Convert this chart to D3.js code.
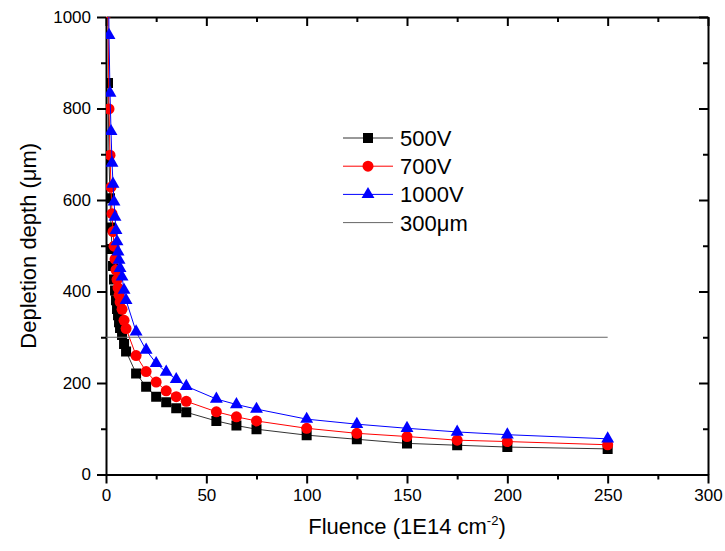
<!DOCTYPE html>
<html>
<head>
<meta charset="utf-8">
<script src="https://cdn.jsdelivr.net/npm/d3@7"></script>
<style>
  html, body { margin: 0; padding: 0; background: #fff; }
  svg { display: block; font-family: 'Liberation Sans', Arial, sans-serif; }
</style>
</head>
<body>
<svg id="chart" width="725" height="551"></svg>
<script>
// ── data ────────────────────────────────────────────────────────────────────
const fluence = [1, 1.5, 2, 2.5, 3, 3.5, 4, 4.5, 5, 5.5, 6, 6.5, 7, 8, 9, 10,
                 15, 20, 25, 30, 35, 40, 55, 65, 75, 100, 125, 150, 175, 200, 250];
const depth500  = [856, 690, 604, 540, 493, 456, 426, 402, 381, 362, 348, 333, 320, 305, 285, 269,
                   221, 192, 170, 158, 145, 136, 117, 107, 99, 86, 77, 68, 64, 60, 56];
const depth700  = [1010, 799, 698, 628, 570, 531, 499, 471, 447, 426, 408, 392, 377, 361, 337, 319,
                   260, 225, 202, 183, 170, 160, 137, 126, 117, 101, 90, 83, 75, 72, 65];
const depth1000 = [1200, 960, 834, 750, 681, 635, 596, 563, 534, 509, 487, 469, 451, 432, 403, 381,
                   312, 272, 243, 224, 208, 193, 165, 153, 143, 121, 110, 101, 93, 87, 78];
const limitX = [0, 250];
const limitY = [300, 300];

const xTicks = [0, 50, 100, 150, 200, 250, 300];
const yTicks = [0, 200, 400, 600, 800, 1000];

const series = [
  { name: '500V',  values: depth500,  color: '#000000', line: '#333333', shape: d3.symbolSquare,   size: 100 },
  { name: '700V',  values: depth700,  color: '#ff0000', line: '#ff0000', shape: d3.symbolCircle,   size: 95 },
  { name: '1000V', values: depth1000, color: '#0000ff', line: '#0000ff', shape: d3.symbolTriangle, size: 72 },
];

// ── layout ──────────────────────────────────────────────────────────────────
const W = 725, H = 551;
const m = { left: 106, right: 17, top: 17, bottom: 76.5 };
const x = d3.scaleLinear().domain([0, 300]).range([m.left, W - m.right]);
const y = d3.scaleLinear().domain([0, 1000]).range([H - m.bottom, m.top]);

const svg = d3.select('#chart');

svg.append('clipPath').attr('id', 'plot-clip')
  .append('rect')
  .attr('x', m.left).attr('y', m.top)
  .attr('width', W - m.left - m.right).attr('height', H - m.top - m.bottom);

// ── axes (box with inward ticks on top/right) ───────────────────────────────
const minorX = d3.range(25, 300, 50);
const minorY = d3.range(100, 1000, 200);
const fmt = d3.format('d');

function styleAxis(g) {
  g.selectAll('path.domain').attr('stroke', '#000').attr('stroke-width', 2);
  g.selectAll('.tick line').attr('stroke', '#000').attr('stroke-width', 2);
}

const gx = svg.append('g').attr('transform', `translate(0,${y(0)})`)
  .call(d3.axisBottom(x).tickValues(xTicks).tickFormat(fmt).tickSize(9).tickSizeOuter(0).tickPadding(5));
gx.selectAll('text').attr('font-size', 17).attr('fill', '#000').attr('font-family', 'Liberation Sans, Arial, sans-serif');
styleAxis(gx);
svg.append('g').attr('transform', `translate(0,${y(0)})`)
  .call(d3.axisBottom(x).tickValues(minorX).tickSize(5).tickFormat(''))
  .call(g => g.select('.domain').remove()).call(styleAxis);

const gxTop = svg.append('g').attr('transform', `translate(0,${y(1000)})`)
  .call(d3.axisTop(x).tickValues(xTicks).tickSize(-9).tickSizeOuter(0).tickFormat(''));
styleAxis(gxTop);
svg.append('g').attr('transform', `translate(0,${y(1000)})`)
  .call(d3.axisTop(x).tickValues(minorX).tickSize(-5).tickFormat(''))
  .call(g => g.select('.domain').remove()).call(styleAxis);

const gy = svg.append('g').attr('transform', `translate(${x(0)},0)`)
  .call(d3.axisLeft(y).tickValues(yTicks).tickFormat(fmt).tickSize(9).tickSizeOuter(0).tickPadding(6));
gy.selectAll('text').attr('font-size', 17).attr('fill', '#000').attr('font-family', 'Liberation Sans, Arial, sans-serif');
styleAxis(gy);
svg.append('g').attr('transform', `translate(${x(0)},0)`)
  .call(d3.axisLeft(y).tickValues(minorY).tickSize(5).tickFormat(''))
  .call(g => g.select('.domain').remove()).call(styleAxis);

const gyRight = svg.append('g').attr('transform', `translate(${x(300)},0)`)
  .call(d3.axisRight(y).tickValues(yTicks).tickSize(-9).tickSizeOuter(0).tickFormat(''));
styleAxis(gyRight);
svg.append('g').attr('transform', `translate(${x(300)},0)`)
  .call(d3.axisRight(y).tickValues(minorY).tickSize(-5).tickFormat(''))
  .call(g => g.select('.domain').remove()).call(styleAxis);

// axis titles
const xt = svg.append('text')
  .attr('x', (x(0) + x(300)) / 2).attr('y', 534)
  .attr('text-anchor', 'middle').attr('font-size', 22).attr('fill', '#000');
xt.append('tspan').text('Fluence (1E14 cm');
xt.append('tspan').attr('font-size', 13).attr('dy', -9).text('-2');
xt.append('tspan').attr('dy', 9).text(')');

svg.append('text')
  .attr('transform', `translate(36,${(y(0) + y(1000)) / 2}) rotate(-90)`)
  .attr('text-anchor', 'middle').attr('font-size', 22).attr('fill', '#000')
  .text('Depletion depth (μm)');

// ── data ────────────────────────────────────────────────────────────────────
const plot = svg.append('g').attr('clip-path', 'url(#plot-clip)');
const line = d3.line().x(d => x(d[0])).y(d => y(d[1]));

series.forEach(s => {
  const pts = fluence.map((f, i) => [f, s.values[i]]);
  plot.append('path').datum(pts)
    .attr('fill', 'none').attr('stroke', s.line).attr('stroke-width', 1).attr('d', line);
  plot.selectAll(null).data(pts).enter().append('path')
    .attr('transform', d => `translate(${x(d[0])},${y(d[1])})`)
    .attr('d', d3.symbol().type(s.shape).size(s.size))
    .attr('fill', s.color);
});

plot.append('path').datum(limitX.map((v, i) => [v, limitY[i]]))
  .attr('fill', 'none').attr('stroke', '#666').attr('stroke-width', 1).attr('d', line);

// ── legend ──────────────────────────────────────────────────────────────────
const legendItems = [...series, { name: '300μm', line: '#666' }];
const lg = svg.append('g');
legendItems.forEach((s, i) => {
  const cy = 138 + i * 28.2;
  lg.append('line').attr('x1', 343).attr('x2', 393).attr('y1', cy).attr('y2', cy)
    .attr('stroke', s.line).attr('stroke-width', 1);
  if (s.shape) {
    lg.append('path').attr('transform', `translate(368,${cy})`)
      .attr('d', d3.symbol().type(s.shape).size(s.size)).attr('fill', s.color);
  }
  lg.append('text').attr('x', 400).attr('y', cy + 8)
    .attr('font-size', 22).attr('fill', '#000').text(s.name);
});
</script>
</body>
</html>
